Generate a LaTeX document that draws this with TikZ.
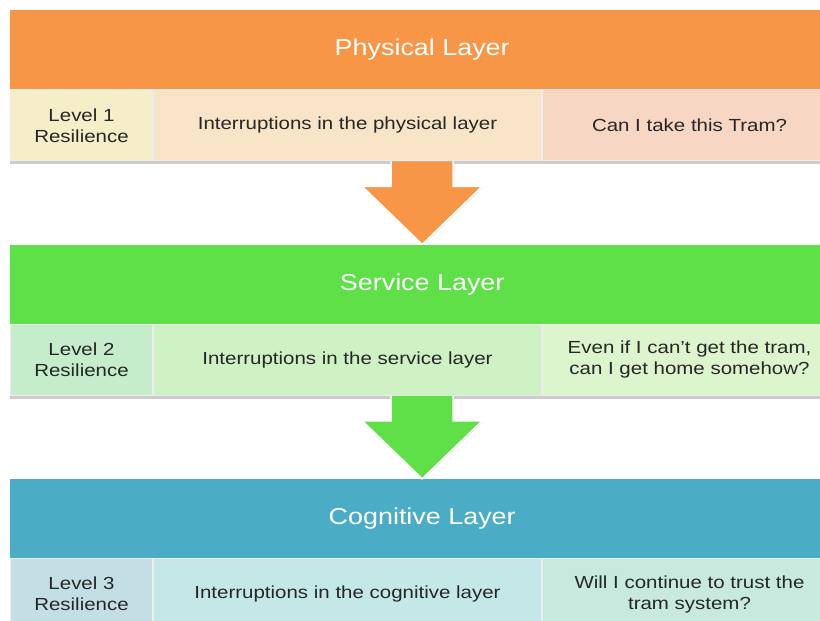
\documentclass[tikz,border=0pt]{standalone}
\usepackage{fontspec}
\setmainfont[FakeStretch=1.17]{Liberation Sans}
\usepackage{tikz}
\usetikzlibrary{positioning,shadows}

\definecolor{physhead}{HTML}{F79646}
\definecolor{physlvl}{HTML}{F6EEC8}
\definecolor{physint}{HTML}{F8E4C6}
\definecolor{physq}{HTML}{F8D6C4}
\definecolor{servhead}{HTML}{5FE048}
\definecolor{servlvl}{HTML}{C5ECCB}
\definecolor{servint}{HTML}{CEF2C4}
\definecolor{servq}{HTML}{DCF5CC}
\definecolor{coghead}{HTML}{4BACC6}
\definecolor{coglvl}{HTML}{C4DEE6}
\definecolor{cogint}{HTML}{C4E8E8}
\definecolor{cogq}{HTML}{C8EADE}

\tikzstyle{layer} = [rectangle, minimum width=824pt, minimum height=79pt, inner sep=0pt,
text=white, font=\fontsize{23}{27}\selectfont]
\tikzstyle{cell} = [rectangle, minimum height=71pt, inner sep=0pt, align=center,
draw=black!7, line width=1pt, text=black!85, font=\fontsize{17.5}{21}\selectfont]
\tikzstyle{lvl} = [cell, minimum width=142pt]
\tikzstyle{int} = [cell, minimum width=388pt]
\tikzstyle{quest} = [cell, minimum width=294pt]
\tikzstyle{band} = [black!20, line width=3pt]
\tikzstyle{blockarrow} = [draw=white, line width=1.5pt, line join=miter,
drop shadow={opacity=0.25, shadow xshift=0.8pt, shadow yshift=-0.8pt}]

\begin{document}
\begin{tikzpicture}
\useasboundingbox (0,0) rectangle (820pt,-621pt);

\node (phys)[layer, fill=physhead, anchor=north west] at (10pt,-10pt) {Physical Layer};
\node (lvl1)[lvl, fill=physlvl, below right=0pt and 0pt of phys.south west]{Level 1\\Resilience};
\node (int1)[int, fill=physint, right=0pt of lvl1]{Interruptions in the physical layer};
\node (q1)[quest, fill=physq, right=0pt of int1]{Can I take this Tram?};

\node (serv)[layer, fill=servhead, below right=83pt and 0pt of lvl1.south west]{Service Layer};
\node (lvl2)[lvl, fill=servlvl, below right=0pt and 0pt of serv.south west]{Level 2\\Resilience};
\node (int2)[int, fill=servint, right=0pt of lvl2]{Interruptions in the service layer};
\node (q2)[quest, fill=servq, right=0pt of int2]{Even if I can’t get the tram,\\can I get home somehow?};

\node (cog)[layer, fill=coghead, below right=83pt and 0pt of lvl2.south west]{Cognitive Layer};
\node (lvl3)[lvl, fill=coglvl, below right=0pt and 0pt of cog.south west]{Level 3\\Resilience};
\node (int3)[int, fill=cogint, right=0pt of lvl3]{Interruptions in the cognitive layer};
\node (q3)[quest, fill=cogq, right=0pt of int3]{Will I continue to trust the\\tram system?};

% shadow under each row
\draw [band]([yshift=-1.5pt]lvl1.south west) -- ([yshift=-1.5pt]q1.south east);
\draw [band]([yshift=-1.5pt]lvl2.south west) -- ([yshift=-1.5pt]q2.south east);

% block arrows between the layers
\coordinate (a1) at (phys.south |- lvl1.south);
\coordinate (a2) at (serv.south |- lvl2.south);
\draw [blockarrow, fill=physhead]([xshift=-31pt]a1) -- ++(0,-25pt) -- ++(-29pt,0) -- (serv.north)
  -- ++(60pt,58pt) -- ++(-29pt,0) -- ++(0,25pt);
\draw [blockarrow, fill=servhead]([xshift=-31pt]a2) -- ++(0,-25pt) -- ++(-29pt,0) -- (cog.north)
  -- ++(60pt,58pt) -- ++(-29pt,0) -- ++(0,25pt);
\end{tikzpicture}
\end{document}
